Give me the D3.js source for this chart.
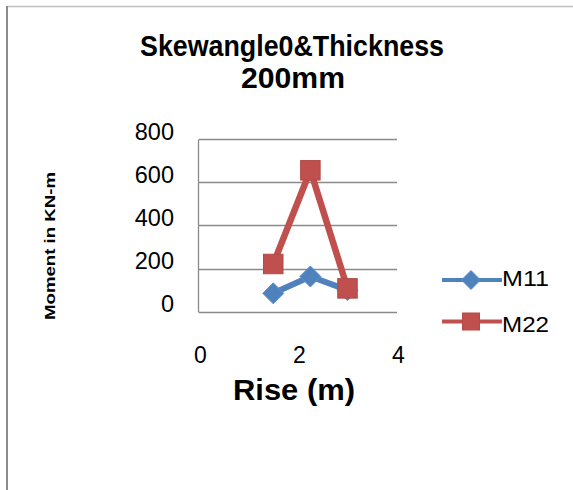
<!DOCTYPE html>
<html>
<head>
<meta charset="utf-8">
<script src="https://cdn.jsdelivr.net/npm/d3@7"></script>
<style>
  html, body { margin: 0; padding: 0; background: #fff; }
  svg { display: block; font-family: "Liberation Sans", Arial, sans-serif; }
</style>
</head>
<body>
<svg id="chart" width="573" height="490"></svg>
<script>
// Rise (m) for each measured case
const rise = [1.5, 2.25, 3];
// Moments (KN-m)
const m11 = [85, 163, 100];
const m22 = [221, 655, 108];
const seriesNames = ["M11", "M22"];
const seriesColors = ["#4F81BD", "#C0504D"];
const xTicks = [0, 2, 4];
const yTicks = [0, 200, 400, 600, 800];
const titleLines = ["Skewangle0&Thickness", "200mm"];

const svg = d3.select("#chart");

// frame edges
svg.append("line").attr("x1", 7).attr("x2", 573).attr("y1", 6.5).attr("y2", 6.5)
  .attr("stroke", "#c0c0c0").attr("stroke-width", 1.5);
svg.append("line").attr("x1", 7).attr("x2", 7).attr("y1", 6).attr("y2", 490)
  .attr("stroke", "#8c8c8c").attr("stroke-width", 2);

const x = d3.scaleLinear().domain([0, 4]).range([199, 397]);
const y = d3.scaleLinear().domain([0, 800]).range([311.7, 139]);

// horizontal gridlines
svg.append("g").selectAll("line").data(yTicks).join("line")
  .attr("x1", x(0)).attr("x2", x(4))
  .attr("y1", d => Math.round(y(d)) + 0.5).attr("y2", d => Math.round(y(d)) + 0.5)
  .attr("stroke", "#8a8a8a").attr("stroke-width", 1.3);

// vertical axis line
svg.append("line").attr("x1", x(0) - 0.5).attr("x2", x(0) - 0.5)
  .attr("y1", Math.round(y(800)) + 0.5).attr("y2", Math.round(y(0)) + 0.5)
  .attr("stroke", "#8a8a8a").attr("stroke-width", 1.3);

// y tick labels
const yAxis = d3.axisLeft(y).tickValues(yTicks).tickSize(0).tickPadding(0);
const gy = svg.append("g").attr("transform", `translate(174,0)`).call(yAxis);
gy.select(".domain").remove();
gy.selectAll("text").attr("font-size", 23.5).attr("fill", "#000")
  .attr("font-family", "Liberation Sans, Arial, sans-serif")
  .attr("dy", "0").attr("x", 0);

// x tick labels
const xAxis = d3.axisBottom(x).tickValues(xTicks).tickSize(0).tickPadding(0)
  .tickFormat(d3.format("d"));
const gx = svg.append("g").attr("transform", `translate(1,363)`).call(xAxis);
gx.select(".domain").remove();
gx.selectAll("text").attr("font-size", 23).attr("fill", "#000")
  .attr("font-family", "Liberation Sans, Arial, sans-serif")
  .attr("dy", "0").attr("y", 0);

// title
svg.append("text").attr("x", 292).attr("y", 56).attr("text-anchor", "middle")
  .attr("font-size", 29).attr("font-weight", "bold")
  .attr("textLength", 304).attr("lengthAdjust", "spacingAndGlyphs")
  .text(titleLines[0]);
svg.append("text").attr("x", 293).attr("y", 88).attr("text-anchor", "middle")
  .attr("font-size", 29).attr("font-weight", "bold")
  .attr("textLength", 104).attr("lengthAdjust", "spacingAndGlyphs")
  .text(titleLines[1]);

// axis titles
svg.append("text").attr("x", 294).attr("y", 400).attr("text-anchor", "middle")
  .attr("font-size", 29.5).attr("font-weight", "bold")
  .attr("textLength", 122).attr("lengthAdjust", "spacingAndGlyphs")
  .text("Rise (m)");
svg.append("text").attr("transform", "translate(55,246) rotate(-90)")
  .attr("text-anchor", "middle").attr("font-size", 15).attr("font-weight", "bold")
  .attr("textLength", 148).attr("lengthAdjust", "spacingAndGlyphs")
  .text("Moment in KN-m");

const line = d3.line().x(d => x(d[0])).y(d => y(d[1]));
const series = [m11, m22].map((vals, i) => ({
  name: seriesNames[i], color: seriesColors[i],
  pts: rise.map((r, j) => [r, vals[j]])
}));

const diamond = (g, cx, cy, r, color) =>
  g.append("path").attr("d", `M${cx},${cy - r}L${cx + r},${cy}L${cx},${cy + r}L${cx - r},${cy}Z`)
    .attr("fill", color).attr("stroke", d3.color(color).brighter(0.3)).attr("stroke-width", 1);
const square = (g, cx, cy, s, color) =>
  g.append("rect").attr("x", cx - s / 2).attr("y", cy - s / 2).attr("width", s).attr("height", s)
    .attr("fill", color).attr("stroke", d3.color(color).darker(0.2)).attr("stroke-width", 1);

const lineWidths = [6, 6.5];
series.forEach((s, i) => {
  const g = svg.append("g");
  g.append("path").datum(s.pts).attr("d", line).attr("fill", "none")
    .attr("stroke", s.color).attr("stroke-width", lineWidths[i]).attr("stroke-linejoin", "round");
  s.pts.forEach(p => {
    if (i === 0) diamond(g, x(p[0]), y(p[1]), 10.5, s.color);
    else square(g, x(p[0]), y(p[1]), 19.5, s.color);
  });
});

// legend
const legY = [280, 321.5];
const legBase = [285.5, 332];
series.forEach((s, i) => {
  const g = svg.append("g");
  g.append("line").attr("x1", 442).attr("x2", 502).attr("y1", legY[i]).attr("y2", legY[i])
    .attr("stroke", s.color).attr("stroke-width", 4);
  if (i === 0) diamond(g, 471, legY[i], 9.5, s.color);
  else square(g, 471, legY[i], 17, s.color);
  g.append("text").attr("x", 502).attr("y", legBase[i])
    .attr("font-size", 22).attr("textLength", 47).attr("lengthAdjust", "spacingAndGlyphs")
    .text(s.name);
});
</script>
</body>
</html>
